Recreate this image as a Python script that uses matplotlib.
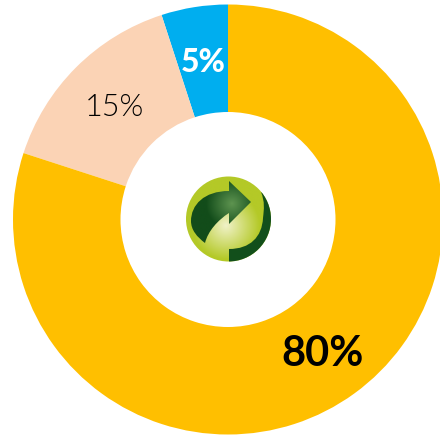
import numpy as np
import matplotlib
matplotlib.use("Agg")
import matplotlib.pyplot as plt
from matplotlib.colors import to_rgb
from matplotlib.patches import Circle, PathPatch
from matplotlib.path import Path

categories = ["Blue", "Peach", "Amber"]
values = [5, 15, 80]
labels = ["5%", "15%", "80%"]
colors = ["#00AEEF", "#FBD3B5", "#FFBF00"]

W, H = 440, 439
fig = plt.figure(figsize=(W / 100, H / 100), dpi=100, facecolor="white")
ax = fig.add_axes([0, 0, 1, 1])
ax.pie(values, colors=colors, startangle=90, counterclock=True,
       center=(228, H - 220.5), radius=215, frame=True,
       wedgeprops=dict(width=107.5, linewidth=0))
ax.set_xlim(0, W)
ax.set_ylim(0, H)
ax.set_aspect("equal")
ax.axis("off")

plt.rcParams["font.family"] = ["Lato", "DejaVu Sans"]
ax.text(203, H - 62, labels[0], color="white", fontsize=23, fontweight=900, ha="center", va="center")
ax.text(114, H - 108, labels[1], color="#000000", fontsize=22, fontweight=300, ha="center", va="center")
ax.text(323, H - 354, labels[2], color="black", fontsize=30, fontweight="bold", ha="center", va="center")


def P(pts):
    return [(x, H - y) for x, y in pts]


def radial(c0, c1, fx, fy, span, ext):
    """Radial gradient centred on (fx, fy) in image pixels, top row first."""
    xs = np.linspace(ext[0], ext[1], 160)
    ys = np.linspace(H - ext[3], H - ext[2], 160)
    xx, yy = np.meshgrid(xs, ys)
    t = np.clip(np.hypot(xx - fx, yy - fy) / span, 0, 1)[..., None]
    return (1 - t) * np.array(to_rgb(c0)) + t * np.array(to_rgb(c1))


cx, cy, r = 228.5, H - 220, 42.5
ext = (cx - r - 1, cx + r + 1, cy - r - 1, cy + r + 1)

disc = Circle((cx, cy), r, fc="none", ec="none")
ax.add_patch(disc)
base = ax.imshow(radial("#F0F2C8", "#B4C927", 226, 226, 34, ext), extent=ext,
                 origin="upper", zorder=3, aspect="auto", interpolation="bilinear")
base.set_clip_path(disc)

M, L, C = Path.MOVETO, Path.LINETO, Path.CURVE4
arrow_pts = [(251, 203), (229, 182), (229, 192),
             (204, 192), (191, 206), (191, 222),
             (191, 231), (197, 238), (205, 244),
             (208, 232), (218, 221), (229, 214),
             (229, 225), (251, 203)]
arrow_codes = [M, L, L, C, C, C, C, C, C, C, C, C, L, L]
arrow_patch = PathPatch(Path(P(arrow_pts), arrow_codes), fc="none", ec="none")
ax.add_patch(arrow_patch)
arrow = ax.imshow(radial("#5E9450", "#124C1A", 232, 204, 26, ext), extent=ext,
                  origin="upper", zorder=4, aspect="auto", interpolation="bilinear")
arrow.set_clip_path(arrow_patch)

ring_pts = [(229, 250),
            (250, 250), (262, 238), (263, 219),
            (264, 210), (265, 203), (261, 193),
            (285, 205), (285, 240), (265, 258),
            (255, 268), (240, 270), (229, 270),
            (229, 250)]
ring_codes = [M, C, C, C, C, C, C, C, C, C, C, C, C, L]
ring = PathPatch(Path(P(ring_pts), ring_codes), fc="#124F1B", ec="none", zorder=5)
ax.add_patch(ring)
ring.set_clip_path(disc)

ax.set_xlim(0, W)
ax.set_ylim(0, H)
fig.savefig("out.png", dpi=100, facecolor="white")
